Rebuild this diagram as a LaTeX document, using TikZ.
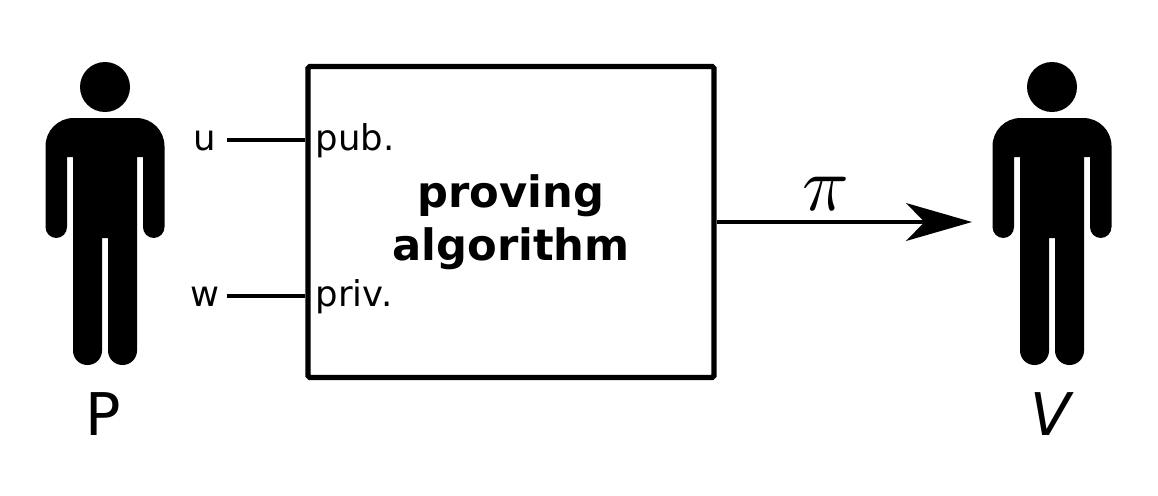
\documentclass[tikz,border=0pt]{standalone}
\usepackage{fontspec}
\setmainfont{DejaVu Sans}
\usepackage{tikz}
\usetikzlibrary{positioning, arrows.meta}
\tikzset{ProverBox/.style={%
    shape=rectangle,%
    draw=black,%
    fill=white,%
    line width=3pt,%
    rounded corners=1pt,%
    minimum width=231pt,%
    minimum height=177pt,%
    inner sep=0pt,%
    align=center,%
    font=\fontsize{24.6}{30}\selectfont\bfseries,%
}}
\tikzset{PortLabel/.style={%
    inner sep=0pt,%
    font=\fontsize{20.2}{22}\selectfont,%
}}
\tikzset{PersonLabel/.style={%
    inner sep=0pt,%
    font=\fontsize{33.5}{40}\selectfont,%
}}
\tikzset{NormalEdge/.style={%
    line width=2.3pt,%
}}
\tikzset{EdgePath/.style={%
    -{Stealth[length=37.5pt, width=21.5pt, inset=10.5pt]},%
    line width=2.3pt,%
}}
\tikzset{Person/.pic={%
    \fill (0,0) circle[radius=25];
    \fill (-38,70) [rounded corners=6.2pt] -- (-38,151) -- (-59.5,151)
        [rounded corners=16pt] -- (-59.5,31) -- (59.5,31)
        [rounded corners=6.2pt] -- (59.5,151) -- (38,151)
        [sharp corners] -- (38,70) -- (32,70)
        [rounded corners=8.2pt] -- (32,278) -- (3,278)
        [sharp corners] -- (3,151) -- (-3,151)
        [rounded corners=8.2pt] -- (-3,278) -- (-32,278)
        [sharp corners] -- (-32,70) -- cycle;
}}

\begin{document}
\begin{tikzpicture}[x=0.02cm, y=-0.02cm]
    \useasboundingbox (0,0) rectangle (1158,495);

    \pic at (105,87) {Person};
    \pic at (1052,87) {Person};
    \node[PersonLabel] (p) at (103,414) {P};
    \node[PersonLabel] (v) at (1051,414) {\itshape V};

    \node[ProverBox] (box) at (511,222) {proving\\algorithm};
    \node[PortLabel, anchor=west] (pub) at (315.5,141) {pub.};
    \node[PortLabel, anchor=west] (priv) at (315.5,297) {priv.};
    \node[PortLabel] (u) at (205,141) {u};
    \node[PortLabel] (w) at (205,297) {w};
    \coordinate (uend) at (227,140);
    \coordinate (wend) at (227,296);
    \coordinate (tip) at (972,222);

    \path (uend) edge[NormalEdge] (box.west |- uend);
    \path (wend) edge[NormalEdge] (box.west |- wend);
    \path (box.east |- tip) edge[EdgePath] (tip);
    \node[inner sep=0pt] (pi) at (826,194) {\scalebox{4.4}{$\pi$}};
\end{tikzpicture}
\end{document}
